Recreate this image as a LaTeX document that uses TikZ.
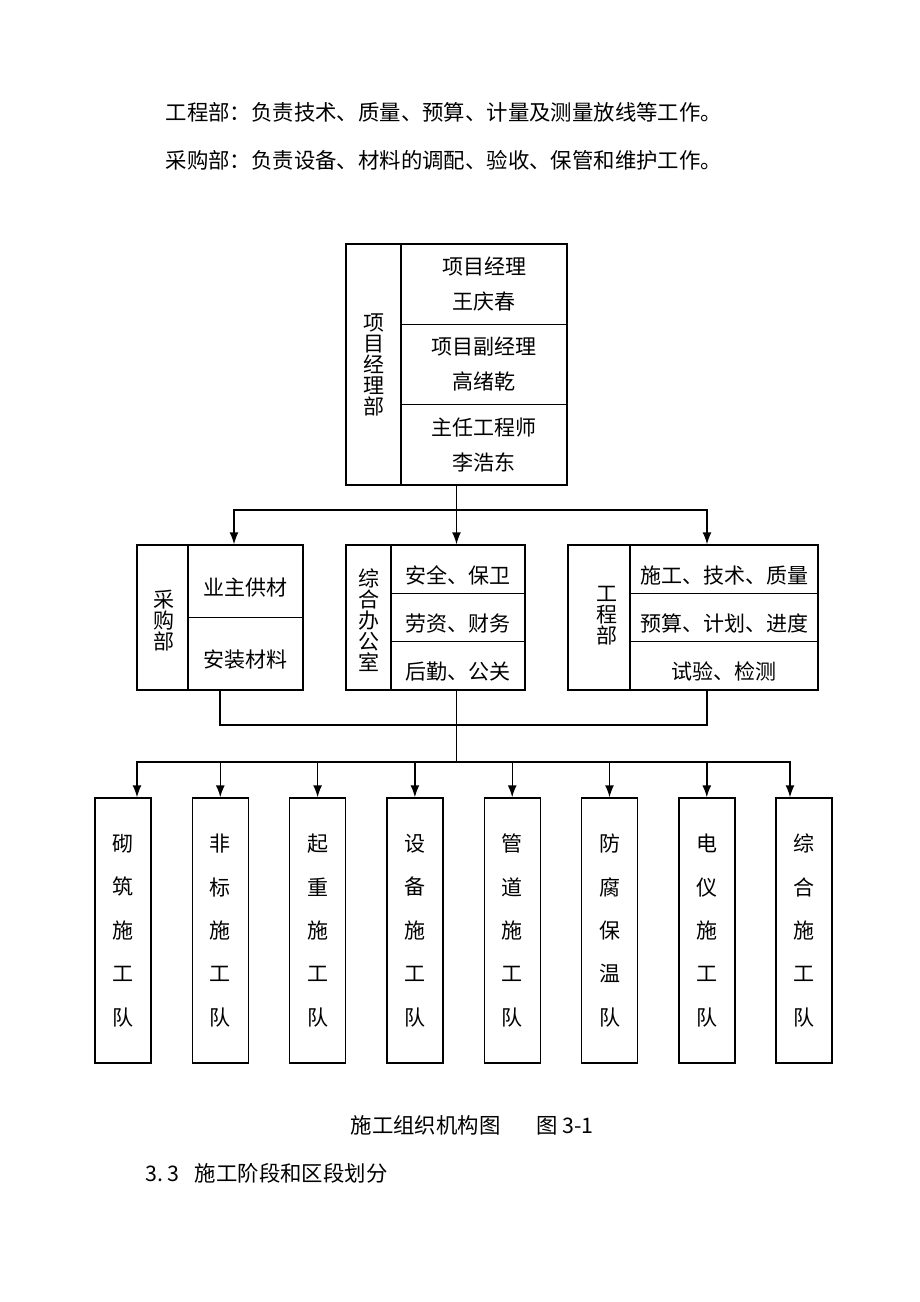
\documentclass[tikz,border=0pt]{standalone}
\usepackage{fontspec}
\setmainfont{Noto Sans CJK SC}
\usetikzlibrary{arrows.meta}
\begin{document}
\begin{tikzpicture}[x=0.5pt,y=-0.5pt,line width=0.7pt,>={Latex[length=6pt,width=4.5pt]}]
\tikzstyle{txt}=[inner sep=0pt, font=\fontsize{10.7}{12}\selectfont]
\tikzstyle{box}=[draw, rectangle, inner sep=0pt, align=center, font=\fontsize{10.5}{17.5}\selectfont]
\tikzstyle{cell}=[box, text height=15pt, text depth=1pt]
\tikzstyle{side}=[inner sep=0pt, align=center, font=\fontsize{10.5}{10.5}\selectfont]
\tikzstyle{team}=[box, minimum width=28pt, minimum height=132.5pt, font=\fontsize{10.5}{21.7}\selectfont]
\useasboundingbox (0,0) rectangle (920,1302);

% text above and below
\node[txt, anchor=west] (t1) at (165,112) {工程部：负责技术、质量、预算、计量及测量放线等工作。};
\node[txt, anchor=west] (t2) at (165,160) {采购部：负责设备、材料的调配、验收、保管和维护工作。};
\node[txt, anchor=west] (cap) at (350,1125) {施工组织机构图\hspace{18pt}图 3-1};
\node[txt, anchor=west] (sec) at (145,1173) {3.\,3\hspace{8pt}施工阶段和区段划分};

% project manager dept
\node[box, minimum width=110.5pt, minimum height=120.5pt] (xm) at (456.5,364.5) {};
\node[side] (xml) at (373.5,365) {项\\目\\经\\理\\部};
\foreach \t [count=\i] in {{项目经理\\王庆春},{项目副经理\\高绪乾},{主任工程师\\李浩东}}
	\node[box, minimum width=83pt, minimum height=40.17pt] (xm\i) at ({484},{244+80.33*(\i-1)+40.17}) {\t};

% purchase
\node[box, minimum width=83pt, minimum height=72.5pt] (cg) at (220,617.5) {};
\node[side] (cgl) at (164,621) {采\\购\\部};
\node[cell, minimum width=57.5pt, minimum height=36.25pt] (cg1) at (245.5,581.25) {业主供材};
\node[cell, minimum width=57.5pt, minimum height=36.25pt] (cg2) at (245.5,653.75) {安装材料};

% office
\node[box, minimum width=89.5pt, minimum height=72.5pt] (zh) at (435.5,617.5) {};
\node[side] (zhl) at (368.5,620) {综\\合\\办\\公\\室};
\foreach \t [count=\i] in {安全、保卫,劳资、财务,后勤、公关}
	\node[cell, minimum width=67pt, minimum height=24.17pt] (zh\i) at ({458},{545+48.33*(\i-1)+24.17}) {\t};

% engineering
\node[box, minimum width=125pt, minimum height=72.5pt] (gc) at (693,617.5) {};
\node[side] (gcl) at (607,616) {工\\程\\部};
\foreach \t [count=\i] in {施工、技术、质量,预算、计划、进度,试验、检测}
	\node[cell, minimum width=94pt, minimum height=24.17pt] (gc\i) at ({724},{545+48.33*(\i-1)+24.17}) {\t};

% teams
\foreach \t [count=\i] in {{砌\\筑\\施\\工\\队},{非\\标\\施\\工\\队},{起\\重\\施\\工\\队},{设\\备\\施\\工\\队},
	{管\\道\\施\\工\\队},{防\\腐\\保\\温\\队},{电\\仪\\施\\工\\队},{综\\合\\施\\工\\队}}
	\node[team] (tm\i) at ({123+97.3*(\i-1)},930.5) {\t};

% connectors
\coordinate (j1) at (456.5,510);
\coordinate (j2) at (456.5,725);
\coordinate (j3) at (456.5,762);
\draw (xm.south) -- (j1);
\draw[->] (j1) -| (234,0 |- cg.north);
\draw[->] (j1) -- (j1 |- zh.north);
\draw[->] (j1) -| (707,0 |- gc.north);
\draw (cg.south) |- (j2);
\draw (707,0 |- gc.south) |- (j2);
\draw (j1 |- zh.south) -- (j3);
\foreach \i/\x in {1/137,2/220.3,3/317.6,4/414.9,5/512.2,6/609.5,7/706.8,8/790}
	\draw[->] (j3) -| (\x,0 |- tm\i.north);
\end{tikzpicture}
\end{document}
